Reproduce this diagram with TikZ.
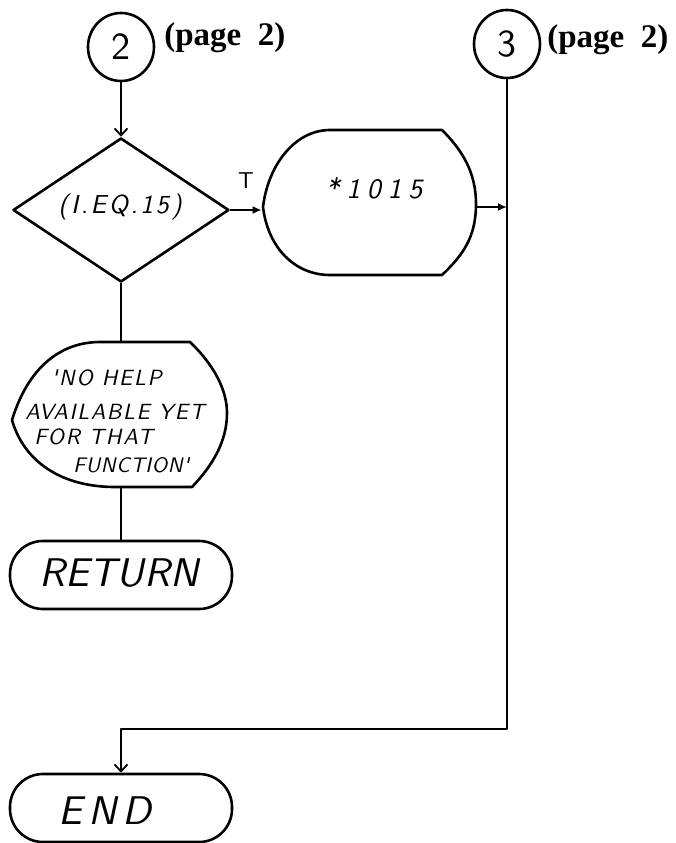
\documentclass[tikz,border=0pt]{standalone}
\usepackage{fontspec}
\usetikzlibrary{shapes.geometric,arrows.meta}
\newfontfamily\typed{Liberation Serif}
\newfontfamily\handup{lmsans10-regular.otf}
\newfontfamily\hand{lmsans10-oblique.otf}
\begin{document}
\begin{tikzpicture}[x=1pt,y=-1pt,
  line width=2.6pt, line join=round,
  conn/.style={line width=2.6pt},
  stick/.style={conn,-{Straight Barb[length=7pt,width=13pt,line width=1.8pt]}},
  solid arrow/.style={conn,-{Latex[length=9pt,width=8pt]}},
  circ/.style={draw, ellipse, minimum width=66pt, minimum height=68pt, inner sep=0pt,
    font=\handup\fontsize{38}{38}\selectfont},
  pagelabel/.style={anchor=west, inner sep=0pt, font=\typed\bfseries\fontsize{33}{33}\selectfont},
  term/.style={draw, rectangle, rounded corners=33pt, minimum width=222pt, minimum height=68pt,
    inner sep=0pt},
  termtext/.style={inner sep=0pt},
  handtext/.style={inner sep=0pt},
  hole/.style={inner sep=0pt, draw=none}
]
\useasboundingbox (0,0) rectangle (675,843);

% off-page connectors
\node[circ] (c2) at (121,47) {2};
\node[pagelabel] (p2a) at (163,38) {(page\ \ 2)};
\node[circ] (c3) at (507,44) {3};
\node[pagelabel] (p2b) at (546,40) {(page\ \ 2)};

% decision
\node[draw, diamond, minimum width=216pt, minimum height=144pt, inner sep=0pt]
  (dec) at (121,210) {};
\node[handtext] (dectext) at (120,207)
  {\hand\fontsize{26}{26}\selectfont\addfontfeatures{LetterSpace=10}(I.EQ.15)};

% display shape *1015
\node[hole, minimum width=213pt, minimum height=146pt] (io) at (369.5,207) {};
\draw (263,207) .. controls (268,165) and (295,130) .. (330,130) -- (442,130)
  .. controls (462,150) and (476,172) .. (476,204)
  .. controls (476,238) and (462,256) .. (442,275) -- (330,275)
  .. controls (295,275) and (268,248) .. (263,207) -- cycle;
\node[handtext] (iotext) at (374,188)
  {\hand\fontsize{28}{28}\selectfont\addfontfeatures{LetterSpace=24}*1015};
\node[handtext] (tlabel) at (246,181) {\handup\fontsize{23}{23}\selectfont T};

% message display shape
\node[hole, minimum width=215pt, minimum height=145pt] (msg) at (121,414.5) {};
\draw (12,420) .. controls (28,368) and (60,342) .. (100,342) -- (190,342)
  .. controls (214,365) and (227,390) .. (227,413)
  .. controls (227,442) and (212,466) .. (192,487) -- (115,487)
  .. controls (62,487) and (24,462) .. (12,420) -- cycle;
\node[handtext, anchor=west] (m1) at (50,378)
  {\hand\fontsize{22}{22}\selectfont\addfontfeatures{LetterSpace=8}'NO HELP};
\node[handtext, anchor=west] (m2) at (24,412)
  {\hand\fontsize{22}{22}\selectfont\addfontfeatures{LetterSpace=7}AVAILABLE YET};
\node[handtext, anchor=west] (m3) at (33,437)
  {\hand\fontsize{22}{22}\selectfont\addfontfeatures{LetterSpace=8}FOR THAT};
\node[handtext, anchor=west] (m4) at (72,465)
  {\hand\fontsize{21}{21}\selectfont\addfontfeatures{LetterSpace=3}FUNCTION'};

% terminals
\node[term] (ret) at (121,575) {};
\node[termtext] (rettext) at (119,573)
  {\hand\fontsize{40}{40}\selectfont RETURN};
\node[termtext] (endtext) at (105,811)
  {\hand\fontsize{40}{40}\selectfont\addfontfeatures{LetterSpace=15}END};
\node[term] (endbox) at (121,808) {};

% connectors
\draw[stick] (c2.south) -- (dec.north);
\draw[solid arrow] (dec.east) -- (dec.east -| io.west);
\draw[conn] (dec.south) -- (msg.north);
\draw[conn] (msg.south) -- (ret.north);
\coordinate (bend) at (507,729);
\draw[solid arrow] (io.east) -- (io.east -| c3.south);
\draw[stick] (c3.south) -- (bend) -| (endbox.north);
\end{tikzpicture}
\end{document}
